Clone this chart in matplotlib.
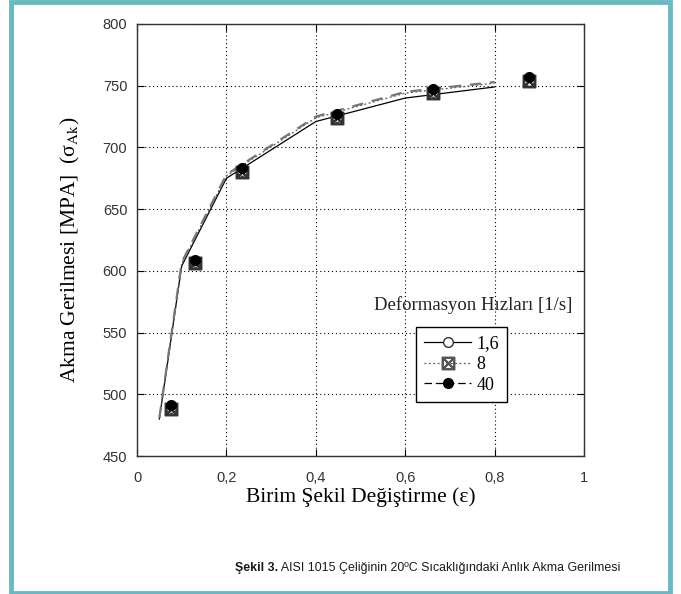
import matplotlib
matplotlib.use('Agg')
import matplotlib.pyplot as plt
from matplotlib.lines import Line2D
from matplotlib.patches import Rectangle

plt.rcParams['mathtext.fontset'] = 'stix'

# model curves
x_line = [0.05, 0.1, 0.2, 0.4, 0.6, 0.8]
s_16 = [480, 604, 675, 721, 740, 749]
s_8 = [481, 606, 677, 724, 744, 752]
s_40 = [481, 607, 678, 725, 745, 753]

# measured points
x_pts = [0.075, 0.13, 0.235, 0.448, 0.663, 0.878]
p_16 = [489, 607, 681, 725, 745, 754]
p_8 = [488, 606, 680, 724, 744, 754]
p_40 = [491, 609, 683, 727, 747, 757]

rates = ['1,6', '8', '40']
xticks = [0, 0.2, 0.4, 0.6, 0.8, 1]
xtick_labels = ['0', '0,2', '0,4', '0,6', '0,8', '1']
yticks = [450, 500, 550, 600, 650, 700, 750, 800]

serif = 'Liberation Serif'
sans = 'Liberation Sans'
teal = '#68b9c2'

fig = plt.figure(figsize=(6.81, 5.94), dpi=100)
ax = fig.add_axes([0.2012, 0.2323, 0.6564, 0.7273])

ax.plot(x_line, s_16, color='black', lw=0.9, ls='-')
ax.plot(x_line, s_8, color='#555555', lw=0.9, ls=(0, (1.5, 2)))
ax.plot(x_line, s_40, color='#777777', lw=1.6, ls=(0, (5, 4)))

ax.plot(x_pts, p_16, 'o', ms=7, mfc='white', mec='#333333', mew=0.9)
ax.plot(x_pts, p_8, ls='none', marker=r'$\boxtimes$', ms=9, color='#333333')
ax.plot(x_pts, p_40, 'o', ms=7, mfc='black', mec='black')

ax.set_xlim(0, 1)
ax.set_ylim(450, 800)
ax.set_xticks(xticks)
ax.set_xticklabels(xtick_labels)
ax.set_yticks(yticks)
ax.grid(True, color='black', ls=(0, (1, 2.5)), lw=0.8)
ax.tick_params(direction='in', length=5, top=True, right=True, labelsize=10.5,
               labelcolor='#333333', labelfontfamily=sans)
ax.tick_params(axis='y', pad=7)
ax.tick_params(axis='x', pad=11)
for sp in ax.spines.values():
    sp.set_linewidth(1.0)
    sp.set_color('#333333')

ax.set_xlabel('Birim Şekil Değiştirme (ε)', fontfamily=serif, fontsize=15.5)
ax.set_ylabel('Akma Gerilmesi [MPA]  (σ$_{\\mathrm{Ak}}$)', fontfamily=serif, fontsize=15.5)
ax.xaxis.set_label_coords(0.5, -0.073)
ax.yaxis.set_label_coords(-0.123, 0.477)

handles = [
    Line2D([], [], color='black', lw=0.9, marker='o', ms=7, mfc='white', mec='#333333'),
    Line2D([], [], color='#555555', lw=0.9, ls=(0, (1.5, 2)), marker=r'$\boxtimes$', ms=9),
    Line2D([], [], color='black', lw=0.9, ls=(0, (6, 3)), marker='o', ms=7, mfc='black'),
]
leg = ax.legend(handles, rates, loc='upper left', bbox_to_anchor=(0.604, 0.319),
                prop={'family': serif, 'size': 13}, frameon=True, fancybox=False,
                edgecolor='black', framealpha=1, handlelength=2.6, handletextpad=0.3,
                labelspacing=0.2, borderpad=0.45)
leg.get_frame().set_linewidth(1.0)
ax.text(0.975, 0.35, 'Deformasyon Hızları [1/s]', transform=ax.transAxes, ha='right',
        va='center', fontfamily=serif, fontsize=13.5, color='#222222')

# frame around the whole figure
fig.patches.append(Rectangle((11 / 681, 1.5 / 594), 659 / 681, 591 / 594, transform=fig.transFigure,
                             fill=False, edgecolor=teal, lw=3.5))

# caption: bold lead + regular rest, sized to roughly the original's width, centred like it
cap_w = 385
cap_cx = 427.5
t1 = fig.text(0.3, 1 - 568 / 594, 'Şekil 3.', fontfamily=sans, fontweight='bold',
              fontsize=10, va='center', color='#1a1a1a')
t2 = ax.annotate(' AISI 1015 Çeliğinin 20ºC Sıcaklığındaki Anlık Akma Gerilmesi', xy=(1, 0.5),
                 xycoords=t1, va='center', ha='left', fontfamily=sans, fontsize=10,
                 color='#1a1a1a', annotation_clip=False)
fig.canvas.draw()
r = fig.canvas.get_renderer()
w = t2.get_window_extent(r).x1 - t1.get_window_extent(r).x0
fs = 10 * cap_w / w
t1.set_fontsize(fs)
t2.set_fontsize(fs)
t1.set_x((cap_cx - cap_w / 2) / 681)

fig.savefig('out.png', dpi=100)
